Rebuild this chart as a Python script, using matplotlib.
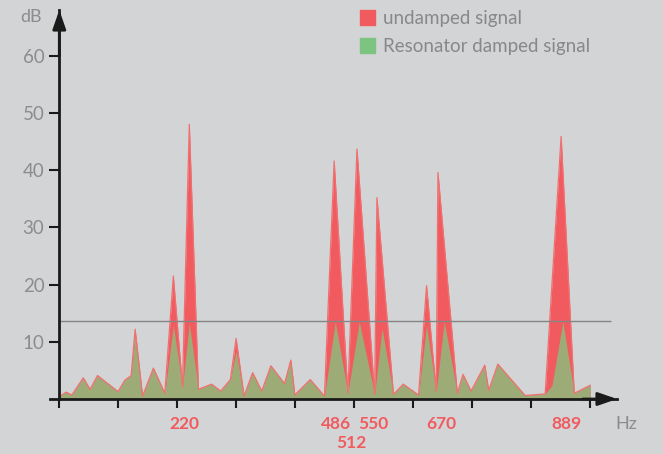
import matplotlib.pyplot as plt
from matplotlib.patches import Patch

plt.rcParams['font.family'] = ['Lato', 'DejaVu Sans']

# Resonator damped signal (green) - frequency (Hz) and level (dB)
freq_damped = [1, 12, 22, 42, 54, 67, 103, 115, 126, 133, 146, 165, 185, 200, 216, 228,
               244, 267, 283, 300, 310, 324, 339, 355, 371, 395, 406, 413, 440, 465,
               484, 506, 526, 553, 566, 586, 603, 630, 644, 661, 675, 698, 708, 722,
               746, 753, 769, 817, 852, 864, 883, 903, 931]
db_damped = [0.5, 1.2, 0.7, 3.7, 1.7, 4.1, 1.3, 3.3, 4.1, 11.3, 0.5, 5.4, 1.0, 12.9, 2.1, 13.2,
             1.7, 2.6, 1.4, 3.4, 8.3, 0.5, 4.6, 1.4, 5.8, 2.7, 6.8, 0.7, 3.4, 0.5,
             13.5, 1.0, 13.5, 0.8, 12.3, 0.8, 2.6, 0.7, 12.9, 1.3, 13.5, 1.0, 4.3, 1.4,
             5.9, 1.5, 6.1, 0.6, 0.9, 2.4, 13.5, 1.0, 2.4]

# Undamped signal (red)
freq_undamped = [1, 12, 22, 42, 54, 67, 103, 115, 126, 133, 146, 165, 185, 200, 216, 228,
                 244, 267, 283, 300, 310, 324, 339, 355, 371, 395, 406, 413, 440, 465,
                 482, 506, 522, 553, 557, 586, 603, 630, 644, 661, 664, 698, 708, 722,
                 746, 753, 769, 817, 852, 880, 903, 931]
db_undamped = [0.5, 1.2, 0.7, 3.7, 1.7, 4.1, 1.3, 3.3, 4.1, 12.2, 0.5, 5.4, 1.0, 21.5, 2.1, 48.0,
               1.7, 2.6, 1.4, 3.4, 10.6, 0.5, 4.6, 1.4, 5.8, 2.7, 6.8, 0.7, 3.4, 0.5,
               41.6, 1.0, 43.7, 0.8, 35.2, 0.8, 2.6, 0.7, 19.8, 1.3, 39.6, 1.0, 4.3, 1.4,
               5.9, 1.5, 6.1, 0.6, 0.9, 45.9, 1.0, 2.4]

peak_labels = ['220', '486', '512', '550', '670', '889']
peak_label_x = [220, 486, 512, 550, 670, 889]
peak_label_row = [0, 0, 1, 0, 0, 0]

y_ticks = [10, 20, 30, 40, 50, 60]
x_ticks = [i * 103.5 for i in range(10)]
threshold = 13.6

RED = '#f15b5f'
GREEN = '#9dac76'
GREEN_KEY = '#7cc47f'
GRAY = '#8c8c8c'
AXIS = '#1a1a1a'
BG = '#d3d4d6'

fig = plt.figure(figsize=(6.63, 4.54), dpi=100, facecolor=BG)
ax = fig.add_axes([50 / 663, 55 / 454, 567 / 663, 389 / 454])
ax.set_facecolor(BG)

xmin, xmax = -16.3, 978
ax.set_xlim(xmin, xmax)
ax.set_ylim(0, 68)

ax.fill_between(freq_undamped, db_undamped, 0, color=RED, lw=0, zorder=2)
ax.fill_between(freq_damped, db_damped, 0, color=GREEN, lw=0, zorder=3)
ax.plot(freq_undamped, db_undamped, color='#f07070', lw=0.9, zorder=4)

ax.hlines(threshold, 1, 968, color='#858585', lw=1, zorder=5)

# axes with arrows
for s in ['top', 'right']:
    ax.spines[s].set_visible(False)
ax.spines['left'].set_position(('data', 0))
ax.spines['bottom'].set_position(('data', 0))
for s in ['left', 'bottom']:
    ax.spines[s].set_color(AXIS)
    ax.spines[s].set_linewidth(2)
    ax.spines[s].set_zorder(6)
arrow = dict(arrowstyle='-|>,head_length=1.15,head_width=0.4', color=AXIS, lw=2,
             shrinkA=0, shrinkB=0, mutation_scale=10)
ax.annotate('', xy=(0, 68), xytext=(0, 60), arrowprops=arrow, annotation_clip=False)
ax.annotate('', xy=(xmax, 0), xytext=(xmax - 60, 0), arrowprops=arrow, annotation_clip=False)

ax.set_yticks(y_ticks)
ax.set_yticklabels([str(v) for v in y_ticks])
ax.tick_params(axis='y', direction='out', length=7.2, width=1.5, color=AXIS,
               labelcolor=GRAY, labelsize=13.5, pad=3.5)
ax.set_xticks(x_ticks)
ax.set_xticklabels([])
ax.tick_params(axis='x', direction='out', length=6.5, width=1.5, color=AXIS)

for lab, x, row in zip(peak_labels, peak_label_x, peak_label_row):
    ax.text(x, -4.4 - 3.3 * row, lab, color=RED, fontsize=12.5, fontweight='bold',
            ha='center', va='center', clip_on=False)

ax.text(994, -4.4, 'Hz', color=GRAY, fontsize=13, ha='center', va='center', clip_on=False)
ax.text(-50, 66.8, 'dB', color=GRAY, fontsize=13, ha='center', va='center', clip_on=False)

# legend
handles = [Patch(color=RED, label='undamped signal'),
           Patch(color=GREEN_KEY, label='Resonator damped signal')]
fig.legend(handles=handles, loc='upper left', bbox_to_anchor=(343 / 663, 1 + 7 / 454),
           frameon=False, fontsize=13.5, labelcolor='#888888', handlelength=0.8,
           handleheight=0.8, handletextpad=0.45, labelspacing=0.6)

fig.savefig('out.png', dpi=100, facecolor=BG)
